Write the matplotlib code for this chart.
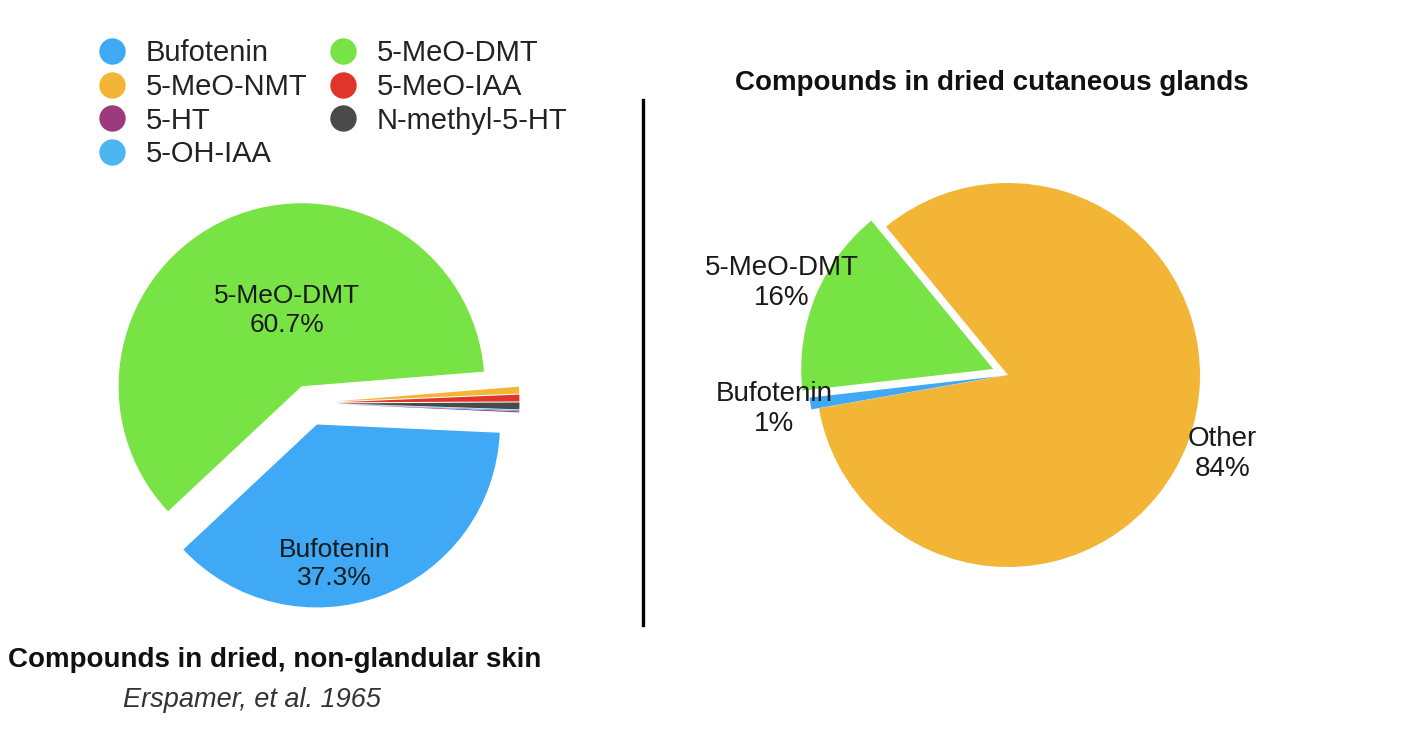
import matplotlib
matplotlib.use("Agg")
import matplotlib.pyplot as plt
from matplotlib.lines import Line2D

plt.rcParams['font.family'] = ['Liberation Sans', 'DejaVu Sans']

# ---- data ----
left_labels = ["5-HT", "5-OH-IAA", "N-methyl-5-HT", "5-MeO-IAA", "5-MeO-NMT", "5-MeO-DMT", "Bufotenin"]
left_values = [0.1, 0.1, 0.6, 0.6, 0.6, 60.7, 37.3]
legend_order = ["Bufotenin", "5-MeO-NMT", "5-HT", "5-OH-IAA", "5-MeO-DMT", "5-MeO-IAA", "N-methyl-5-HT"]

right_labels = ["Other", "5-MeO-DMT", "Bufotenin"]
right_values = [84, 16, 1]

colors = {
    "Bufotenin": "#3FA9F5",
    "5-MeO-NMT": "#F2B535",
    "5-HT": "#9B3B7E",
    "5-OH-IAA": "#4DB6F2",
    "5-MeO-DMT": "#78E345",
    "5-MeO-IAA": "#E0352A",
    "N-methyl-5-HT": "#4A4A4A",
    "Other": "#F2B535",
}

left_title = "Compounds in dried, non-glandular skin"
citation = "Erspamer, et al. 1965"
right_title = "Compounds in dried cutaneous glands"

W, H = 1410, 738
fig = plt.figure(figsize=(W / 100, H / 100), dpi=100)
M = 1.35


def pie_axes(cx, cy, r, m=M):
    size = 2 * m * r
    ax = fig.add_axes([(cx - size / 2) / W, (H - cy - size / 2) / H, size / W, size / H])
    return ax


def fix_limits(ax, m=M):
    ax.set_xlim(-m, m)
    ax.set_ylim(-m, m)
    ax.set_aspect('equal')
    ax.axis('off')

# ---- left pie ----
axL = pie_axes(309, 403, 183)
left_explode = [0.15 if l not in ("5-MeO-DMT", "Bufotenin") else (0.1 if l == "5-MeO-DMT" else 0.125)
                for l in left_labels]
axL.pie(left_values, colors=[colors[l] for l in left_labels], startangle=-2.6,
        explode=left_explode, counterclock=True,
        wedgeprops=dict(linewidth=0))
fix_limits(axL)
for name, pos in (("5-MeO-DMT", (-0.12, 0.505)), ("Bufotenin", (0.14, -0.88))):
    v = left_values[left_labels.index(name)]
    axL.text(pos[0], pos[1], f"{name}\n{v}%", ha='center', va='center',
             fontsize=19, color='#1a1a1a', linespacing=1.25)

# ---- right pie ----
axR = pie_axes(1008, 375, 192)
right_explode = [0, 0.083, 0.04]
wedges, texts = axR.pie(right_values, colors=[colors[l] for l in right_labels],
                        startangle=190, explode=right_explode,
                        labels=[f"{l}\n{v}%" for l, v in zip(right_labels, right_values)],
                        labeldistance=1.19,
                        textprops=dict(fontsize=20, color='#1a1a1a', linespacing=1.2),
                        wedgeprops=dict(linewidth=0))
fix_limits(axR)
for t in texts:
    t.set_ha('center')
    t.set_va('center')

# ---- titles ----
fig.text(275 / W, 1 - 660 / H, left_title, ha='center', va='center', fontsize=20,
         fontweight='bold', color='#111111')
fig.text(252 / W, 1 - 700 / H, citation, ha='center', va='center', fontsize=19.5,
         style='italic', color='#333333')
fig.text(992 / W, 1 - 83 / H, right_title, ha='center', va='center', fontsize=20,
         fontweight='bold', color='#111111')

# ---- divider ----
fig.add_artist(Line2D([643 / W, 643 / W], [1 - 100 / H, 1 - 625 / H], color='black', linewidth=2.4))

# ---- legend ----
handles = [Line2D([], [], marker='o', linestyle='none', markersize=19,
                  markerfacecolor=colors[l], markeredgewidth=0) for l in legend_order]
fig.legend(handles, legend_order, ncol=2, loc='upper left',
           bbox_to_anchor=(97.5 / W, 1 - 39 / H), frameon=False, fontsize=21,
           borderaxespad=0, borderpad=0, handlelength=1.0, handletextpad=0.64,
           columnspacing=0.74, labelspacing=0.2, labelcolor='#222222')

fig.savefig("out.png", dpi=100)
